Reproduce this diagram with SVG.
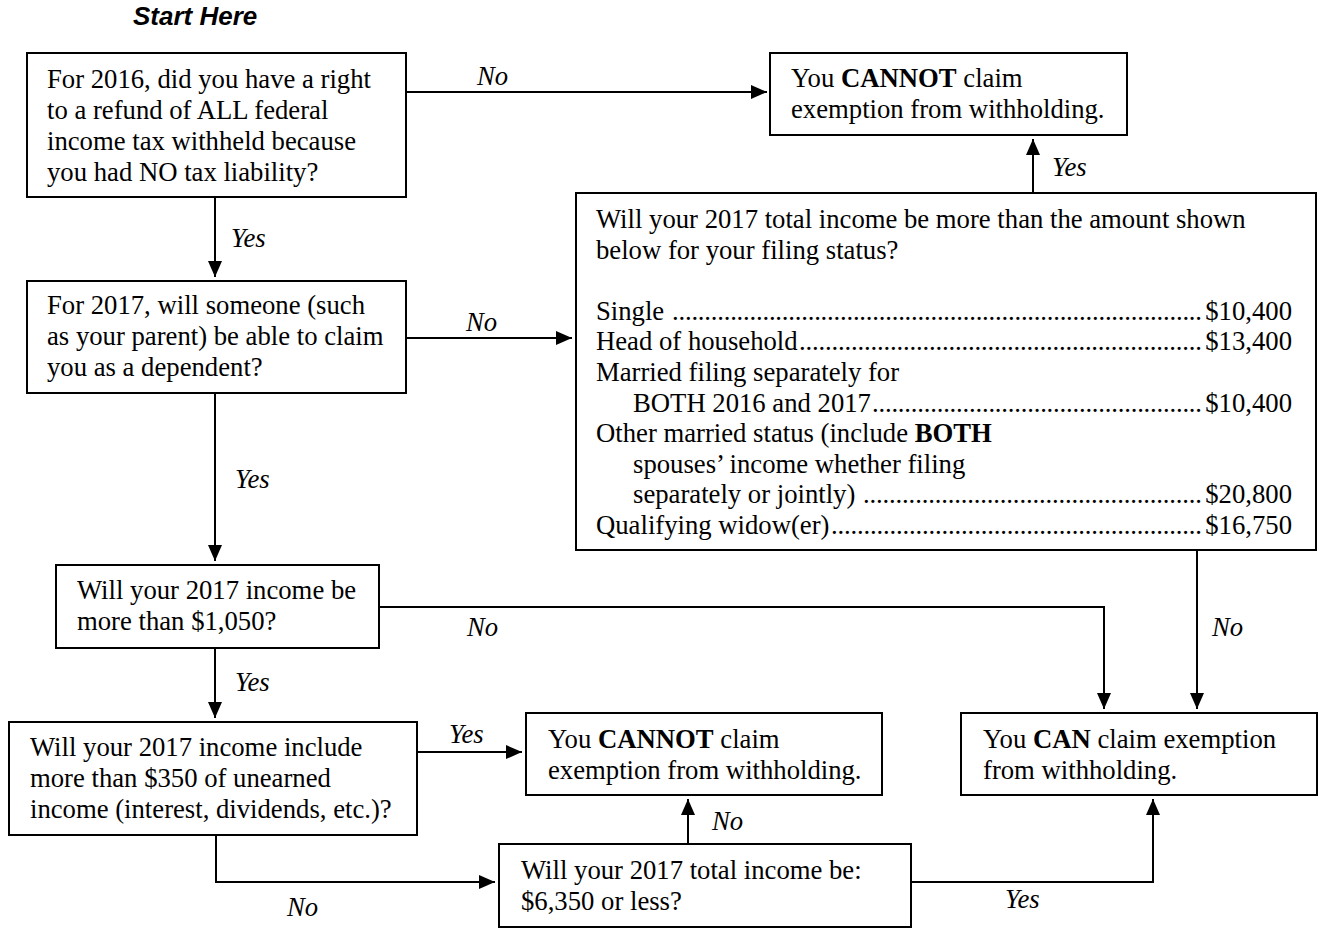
<svg xmlns="http://www.w3.org/2000/svg" width="1320" height="928" viewBox="0 0 1320 928">
<style>
.box{fill:#fff;stroke:#000;stroke-width:2}
.t{font-family:"Liberation Serif","Times New Roman",serif;font-size:26.7px;fill:#000}
.b{font-weight:bold}
.lbl{font-family:"Liberation Serif","Times New Roman",serif;font-size:26.7px;font-style:italic;fill:#000}
.c{fill:none;stroke:#000;stroke-width:2}
.start{font-family:"Liberation Sans",Arial,sans-serif;font-size:26px;font-weight:bold;font-style:italic;fill:#000}
</style>
<defs>
<marker id="ah" markerUnits="userSpaceOnUse" markerWidth="16" markerHeight="14" refX="16" refY="7" orient="auto">
<path d="M0,0 L16,7 L0,14 z" fill="#000"/>
</marker>
</defs>
<rect width="1320" height="928" fill="#fff"/>
<text class="start" x="133" y="25">Start Here</text>

<g id="connectors">
<path class="c" d="M406,92 H767" marker-end="url(#ah)"/>
<path class="c" d="M215,197 V277" marker-end="url(#ah)"/>
<path class="c" d="M406,338 H572" marker-end="url(#ah)"/>
<path class="c" d="M215,393 V561" marker-end="url(#ah)"/>
<path class="c" d="M379,607 H1104 V709" marker-end="url(#ah)"/>
<path class="c" d="M1197,550 V709" marker-end="url(#ah)"/>
<path class="c" d="M1033,193 V139" marker-end="url(#ah)"/>
<path class="c" d="M215,648 V718" marker-end="url(#ah)"/>
<path class="c" d="M417,752 H522" marker-end="url(#ah)"/>
<path class="c" d="M216,835 V882 H495" marker-end="url(#ah)"/>
<path class="c" d="M688,844 V799" marker-end="url(#ah)"/>
<path class="c" d="M911,882 H1153 V799" marker-end="url(#ah)"/>
<text class="lbl" x="477" y="85">No</text>
<text class="lbl" x="231" y="247">Yes</text>
<text class="lbl" x="1052" y="176">Yes</text>
<text class="lbl" x="466" y="331">No</text>
<text class="lbl" x="235" y="488">Yes</text>
<text class="lbl" x="467" y="636">No</text>
<text class="lbl" x="1212" y="636">No</text>
<text class="lbl" x="235" y="691">Yes</text>
<text class="lbl" x="449" y="743">Yes</text>
<text class="lbl" x="712" y="830">No</text>
<text class="lbl" x="287" y="916">No</text>
<text class="lbl" x="1005" y="908">Yes</text>
</g>

<g id="q2016">
<rect class="box" x="27" y="53" width="379" height="144"/>
<text class="t" x="47" y="88">For 2016, did you have a right</text>
<text class="t" x="47" y="119">to a refund of ALL federal</text>
<text class="t" x="47" y="150">income tax withheld because</text>
<text class="t" x="47" y="181">you had NO tax liability?</text>
</g>

<g id="cannot1">
<rect class="box" x="770" y="53" width="357" height="82"/>
<text class="t" x="791" y="87">You <tspan class="b">CANNOT</tspan> claim</text>
<text class="t" x="791" y="118">exemption from withholding.</text>
</g>

<g id="dependent">
<rect class="box" x="27" y="281" width="379" height="112"/>
<text class="t" x="47" y="314">For 2017, will someone (such</text>
<text class="t" x="47" y="345">as your parent) be able to claim</text>
<text class="t" x="47" y="376">you as a dependent?</text>
</g>

<g id="totalincome">
<rect class="box" x="576" y="193" width="740" height="357"/>
<text class="t" x="596" y="228">Will your 2017 total income be more than the amount shown</text>
<text class="t" x="596" y="259">below for your filing status?</text>
<text class="t" x="596" y="320">Single</text>
<text class="t" x="672" y="320" textLength="530" lengthAdjust="spacing">..................................................................................</text>
<text class="t" x="1292" y="320" text-anchor="end">$10,400</text>
<text class="t" x="596" y="350">Head of household</text>
<text class="t" x="799" y="350" textLength="403" lengthAdjust="spacing">..............................................................</text>
<text class="t" x="1292" y="350" text-anchor="end">$13,400</text>
<text class="t" x="596" y="381">Married filing separately for</text>
<text class="t" x="633" y="412">BOTH 2016 and 2017</text>
<text class="t" x="872" y="412" textLength="330" lengthAdjust="spacing">...................................................</text>
<text class="t" x="1292" y="412" text-anchor="end">$10,400</text>
<text class="t" x="596" y="442">Other married status (include <tspan class="b">BOTH</tspan></text>
<text class="t" x="633" y="473">spouses’ income whether filing</text>
<text class="t" x="633" y="503">separately or jointly)</text>
<text class="t" x="863" y="503" textLength="339" lengthAdjust="spacing">....................................................</text>
<text class="t" x="1292" y="503" text-anchor="end">$20,800</text>
<text class="t" x="596" y="534">Qualifying widow(er)</text>
<text class="t" x="831" y="534" textLength="371" lengthAdjust="spacing">.........................................................</text>
<text class="t" x="1292" y="534" text-anchor="end">$16,750</text>
</g>

<g id="q1050">
<rect class="box" x="56" y="565" width="323" height="83"/>
<text class="t" x="77" y="599">Will your 2017 income be</text>
<text class="t" x="77" y="630">more than $1,050?</text>
</g>

<g id="can">
<rect class="box" x="961" y="713" width="356" height="82"/>
<text class="t" x="983" y="748">You <tspan class="b">CAN</tspan> claim exemption</text>
<text class="t" x="983" y="779">from withholding.</text>
</g>

<g id="unearned">
<rect class="box" x="9" y="722" width="408" height="113"/>
<text class="t" x="30" y="756">Will your 2017 income include</text>
<text class="t" x="30" y="787">more than $350 of unearned</text>
<text class="t" x="30" y="818">income (interest, dividends, etc.)?</text>
</g>

<g id="cannot2">
<rect class="box" x="526" y="713" width="356" height="82"/>
<text class="t" x="548" y="748">You <tspan class="b">CANNOT</tspan> claim</text>
<text class="t" x="548" y="779">exemption from withholding.</text>
</g>

<g id="q6350">
<rect class="box" x="499" y="844" width="412" height="83"/>
<text class="t" x="521" y="879">Will your 2017 total income be:</text>
<text class="t" x="521" y="910">$6,350 or less?</text>
</g>
</svg>
